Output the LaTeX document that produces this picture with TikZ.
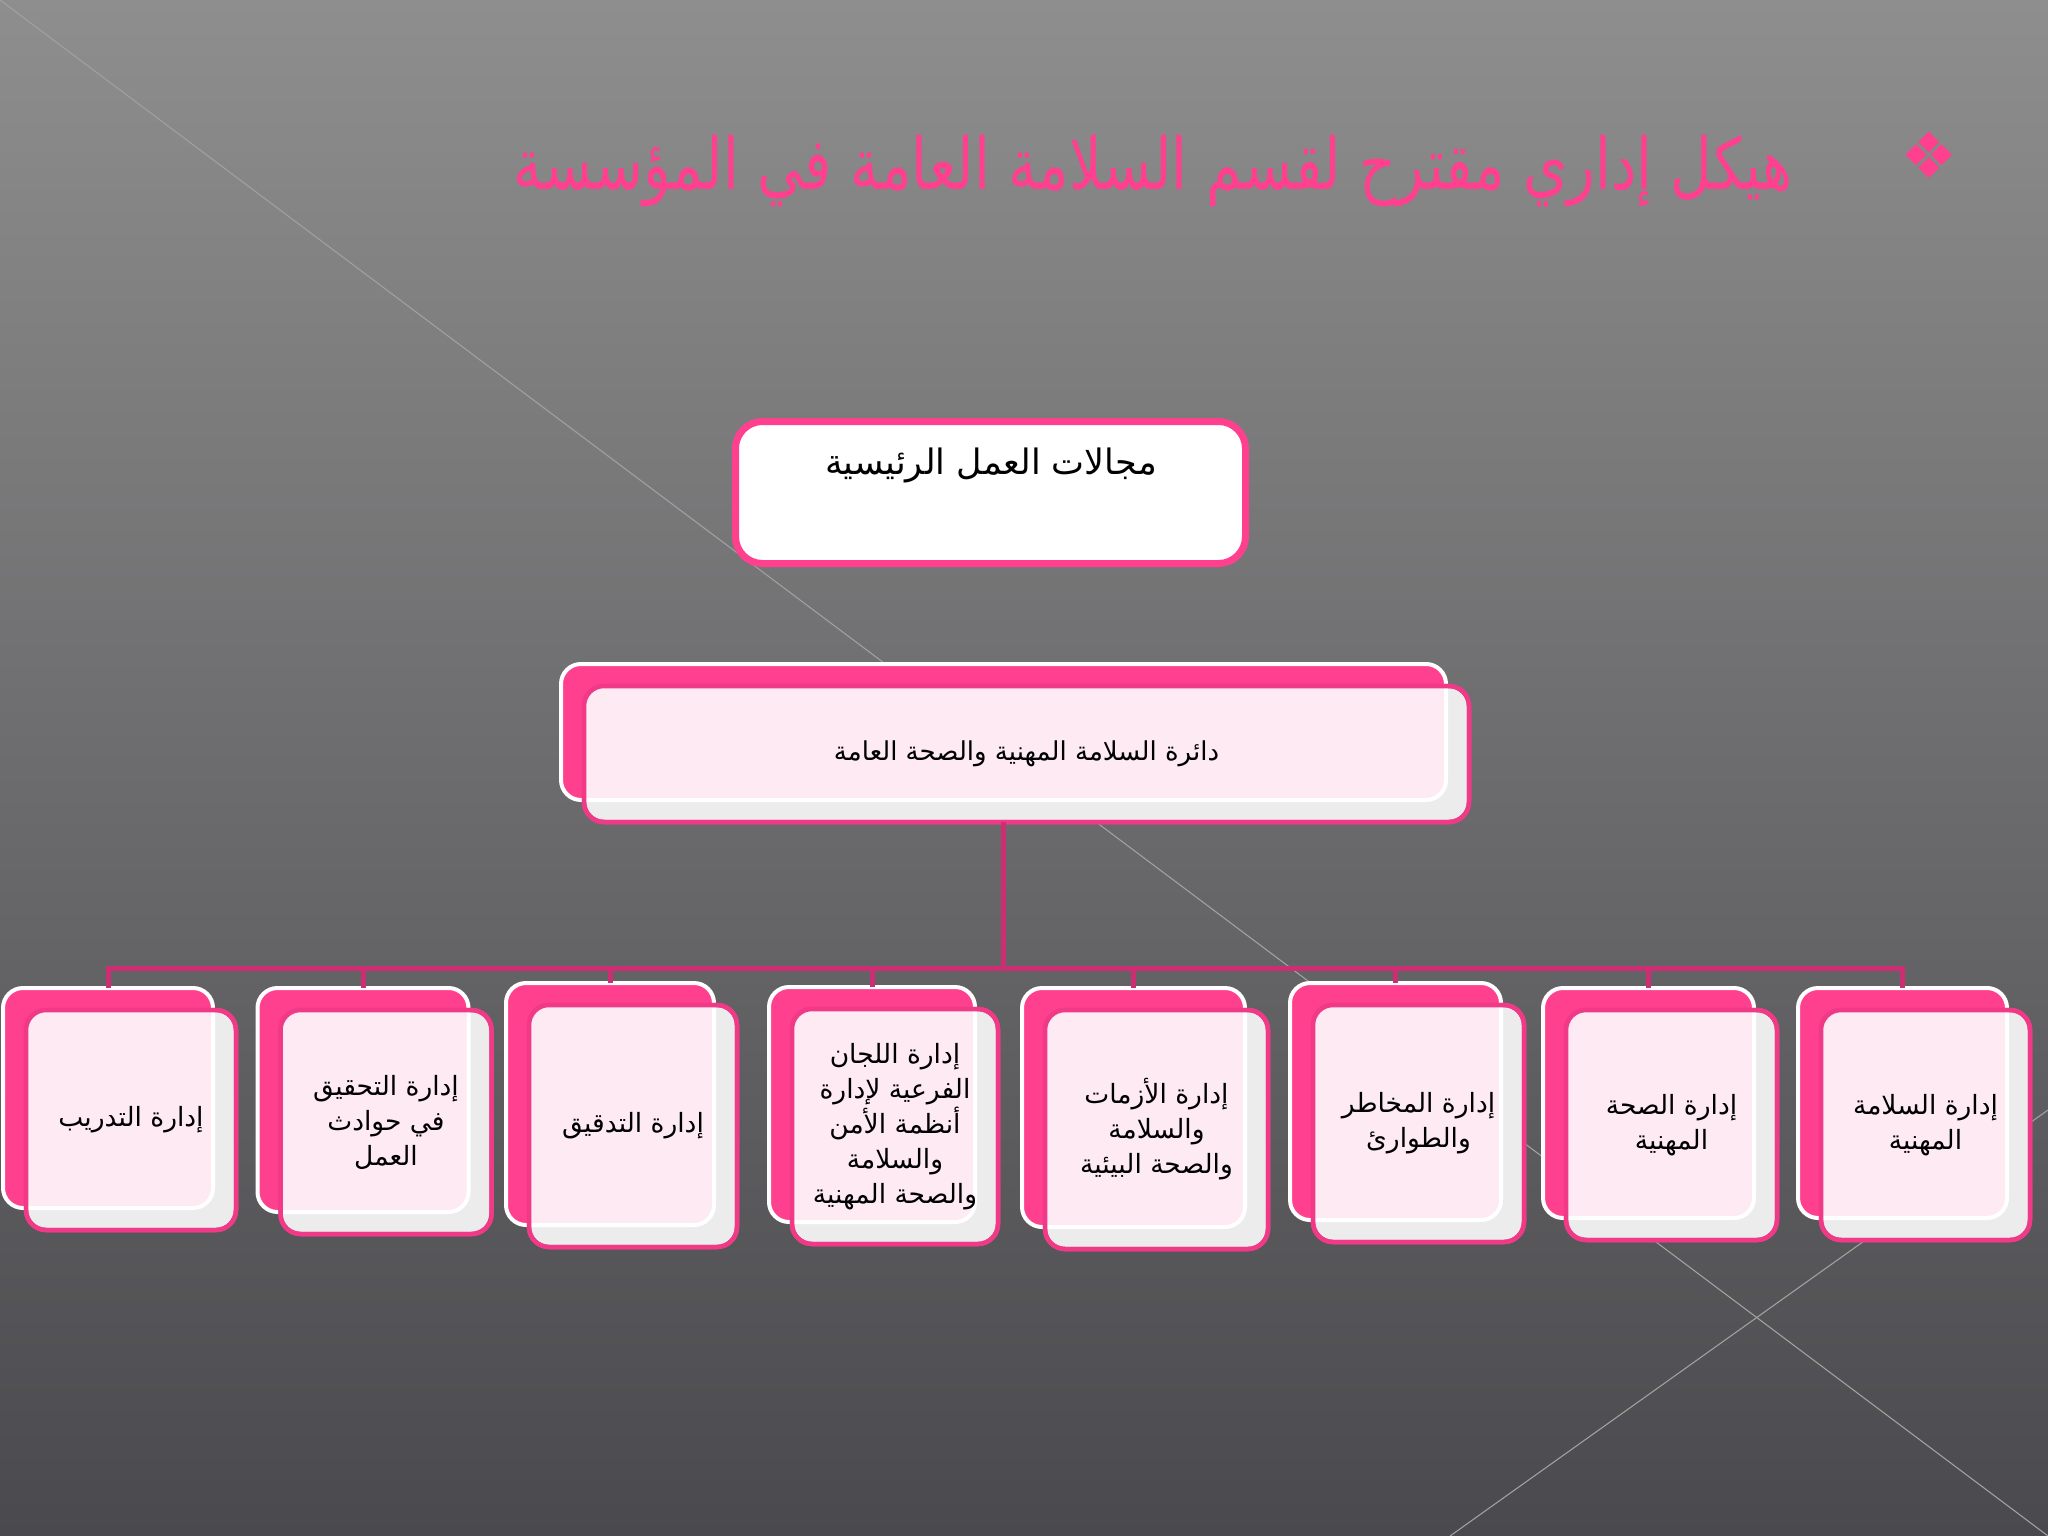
\documentclass[tikz,border=0pt]{standalone}
\usepackage{fontspec}
\usepackage{graphicx}
\newfontfamily\arabicfont[Script=Arabic]{DejaVu Sans}
\newfontfamily\symfont{DejaVu Sans}
\TeXXeTstate=1
\usetikzlibrary{calc}
\definecolor{bgtop}{RGB}{142,142,142}
\definecolor{bgbot}{RGB}{74,73,77}
\definecolor{hotpink}{RGB}{255,64,142}
\definecolor{edgepink}{RGB}{240,58,135}
\definecolor{lightpink}{RGB}{253,234,242}
\definecolor{stripgray}{RGB}{236,236,236}
\definecolor{busline}{RGB}{205,45,115}
\definecolor{diagline}{RGB}{160,160,160}
\newcommand\ar[1]{{\arabicfont\beginR #1\endR}}
\tikzset{
 backbox/.style={draw=white, fill=hotpink, line width=4pt, rounded corners=20pt, outer sep=0pt, inner sep=0pt},
 frontbox/.style={draw=edgepink, fill=stripgray, line width=4.5pt, rounded corners=20pt, outer sep=0pt, inner sep=0pt},
 overlapfill/.style={fill=lightpink, draw=white, line width=4pt, rounded corners=20pt},
 boxtext/.style={text=black, align=center, font=\fontsize{26.5}{35}\selectfont, inner sep=0pt},
 conn/.style={draw=busline, line width=5pt},
}
\newcommand\cbox[7]{% name, cx, cy, w, h, text, font
  \node[backbox, minimum width=#4pt, minimum height=#5pt] (b#1) at (#2,#3) {};
  \node[frontbox, minimum width=#4pt, minimum height=#5pt] (f#1) at ($(#2,#3)+(23,22)$) {};
  \begin{scope}
    \clip[rounded corners=20pt] (f#1.north west) rectangle (f#1.south east);
    \path[overlapfill] (b#1.north west) rectangle (b#1.south east);
  \end{scope}
  \draw[draw=edgepink, line width=4.5pt, rounded corners=20pt] (f#1.north west) rectangle (f#1.south east);
  \node[boxtext, #7] (l#1) at (f#1.center) {#6};
}
\begin{document}
\begin{tikzpicture}[x=1pt, y=-1pt]
\useasboundingbox (0,0) rectangle (2048,1536);
\shade[top color=bgtop, bottom color=bgbot] (0,0) rectangle (2048,1536);
\draw[diagline, line width=1.1pt] (0,0) -- (2048,1536);
\draw[diagline, line width=1.1pt] (1450,1536) -- (2048,1110);

% title
\node[text=hotpink, font=\symfont\fontsize{64}{64}\selectfont, inner sep=0pt] (bullet) at (1929,155) {❖};
\node[anchor=east, text=hotpink, inner sep=0pt] (title) at (1793,171)
  {\scalebox{1}[1.25]{\resizebox{1279pt}{!}{\fontsize{58}{70}\selectfont\ar{هيكل إداري مقترح لقسم السلامة العامة في المؤسسة}}}};

% top box
\node[draw=hotpink, line width=7pt, fill=white, rounded corners=27pt, minimum width=510pt, minimum height=142pt, outer sep=0pt] (t0) at (990.5,492.5) {};
\node[font=\fontsize{35}{40}\selectfont, inner sep=0pt] (t0text) at (991,465) {\ar{مجالات العمل الرئيسية}};

% second level
\cbox{0}{1003.5}{732}{885}{136}{\ar{دائرة السلامة المهنية والصحة العامة}}{font=\fontsize{26}{30}\selectfont}

% children
\cbox{1}{108}{1098}{210}{220}{\ar{إدارة التدريب}}{}
\cbox{2}{363}{1100}{211}{224}{\ar{إدارة التحقيق}\\\ar{في حوادث}\\\ar{العمل}}{}
\cbox{3}{610}{1104}{208}{242}{\ar{إدارة التدقيق}}{}
\cbox{4}{872}{1104.5}{206}{235}{\ar{إدارة اللجان}\\\ar{الفرعية لإدارة}\\\ar{أنظمة الأمن}\\\ar{والسلامة}\\\ar{والصحة المهنية}}{}
\cbox{5}{1133.5}{1107.5}{223}{239}{\ar{إدارة الأزمات}\\\ar{والسلامة}\\\ar{والصحة البيئية}}{}
\cbox{6}{1395.5}{1101.5}{211}{237}{\ar{إدارة المخاطر}\\\ar{والطوارئ}}{}
\cbox{7}{1648.5}{1103}{211}{230}{\ar{إدارة الصحة}\\\ar{المهنية}}{}
\cbox{8}{1902.5}{1103}{209}{230}{\ar{إدارة السلامة}\\\ar{المهنية}}{}

% connectors
\coordinate (bus) at (0,968);
\foreach \i in {1,...,8}{
  \draw[conn] (f0.south -| b0.center) |- (b\i.north |- bus) -- (b\i.north);
}
\end{tikzpicture}
\end{document}
